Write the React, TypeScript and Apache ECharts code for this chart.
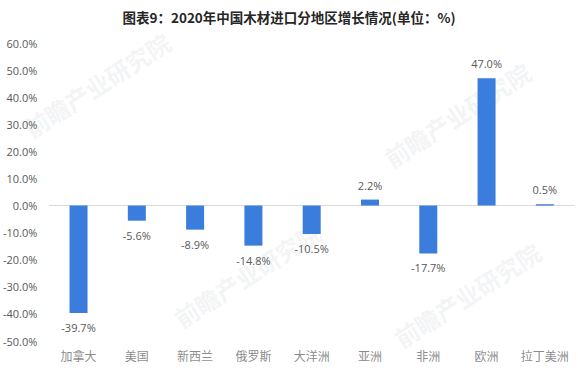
import React, { useEffect, useRef } from "react";
import * as echarts from "echarts";

const categories = ["加拿大", "美国", "新西兰", "俄罗斯", "大洋洲", "亚洲", "非洲", "欧洲", "拉丁美洲"];
const growth = [-39.7, -5.6, -8.9, -14.8, -10.5, 2.2, -17.7, 47.0, 0.5];
const titleText = "图表9：2020年中国木材进口分地区增长情况(单位：%)";
const watermark = "前瞻产业研究院";

export default function App() {
  const ref = useRef<HTMLDivElement>(null);
  useEffect(() => {
    if (!ref.current) return;
    const chart = echarts.init(ref.current, undefined, { renderer: "svg" });
    const wm = (x: number, y: number) => ({
      type: "text",
      x,
      y,
      rotation: Math.PI / 5.5,
      style: {
        text: watermark,
        fill: "rgba(200,205,212,0.22)",
        font: "bold 24px 'Noto Sans CJK SC'",
      },
      z: -1,
    });
    chart.setOption({
      animation: false,
      backgroundColor: "#ffffff",
      title: {
        text: titleText,
        left: "center",
        top: 5,
        textStyle: {
          fontSize: 13.5,
          fontWeight: "bold",
          color: "#262626",
          fontFamily: "'Noto Sans CJK SC', sans-serif",
        },
      },
      graphic: [wm(20, 120), wm(170, 310), wm(380, 150), wm(390, 330)],
      grid: { left: 49, right: 4, top: 43, bottom: 31, containLabel: false },
      xAxis: {
        type: "category",
        data: categories,
        axisLine: { onZero: true, lineStyle: { color: "#d9d9d9", width: 1 } },
        axisTick: { show: false },
        axisLabel: {
          show: false,
        },
      },
      yAxis: {
        type: "value",
        min: -50,
        max: 60,
        interval: 10,
        splitLine: { show: false },
        axisLine: { show: false },
        axisTick: { show: false },
        axisLabel: {
          formatter: (v: number) => v.toFixed(1) + "%",
          color: "#595959",
          fontSize: 11,
          margin: 12,
          fontFamily: "'Open Sans', sans-serif",
        },
      },
      series: [
        {
          type: "bar",
          data: growth,
          barWidth: 18,
          itemStyle: { color: "#3b7ddd" },
          label: {
            show: true,
            position: "outside",
            formatter: (p: any) => Number(p.value).toFixed(1) + "%",
            color: "#595959",
            fontSize: 11,
            distance: 9,
            fontFamily: "'Open Sans', sans-serif",
          },
        },
        {
          type: "scatter",
          data: categories.map((c) => [c, -50]),
          symbolSize: 0,
          silent: true,
          label: {
            show: true,
            position: "bottom",
            distance: 8,
            formatter: (p: any) => p.value[0],
            color: "#6b6b6b",
            fontSize: 12,
            fontFamily: "'Noto Sans CJK SC', sans-serif",
          },
        },
      ],
    });
    return () => chart.dispose();
  }, []);
  return <div ref={ref} style={{ width: 578, height: 372, position: "absolute", left: 0, top: 0 }} />;
}
